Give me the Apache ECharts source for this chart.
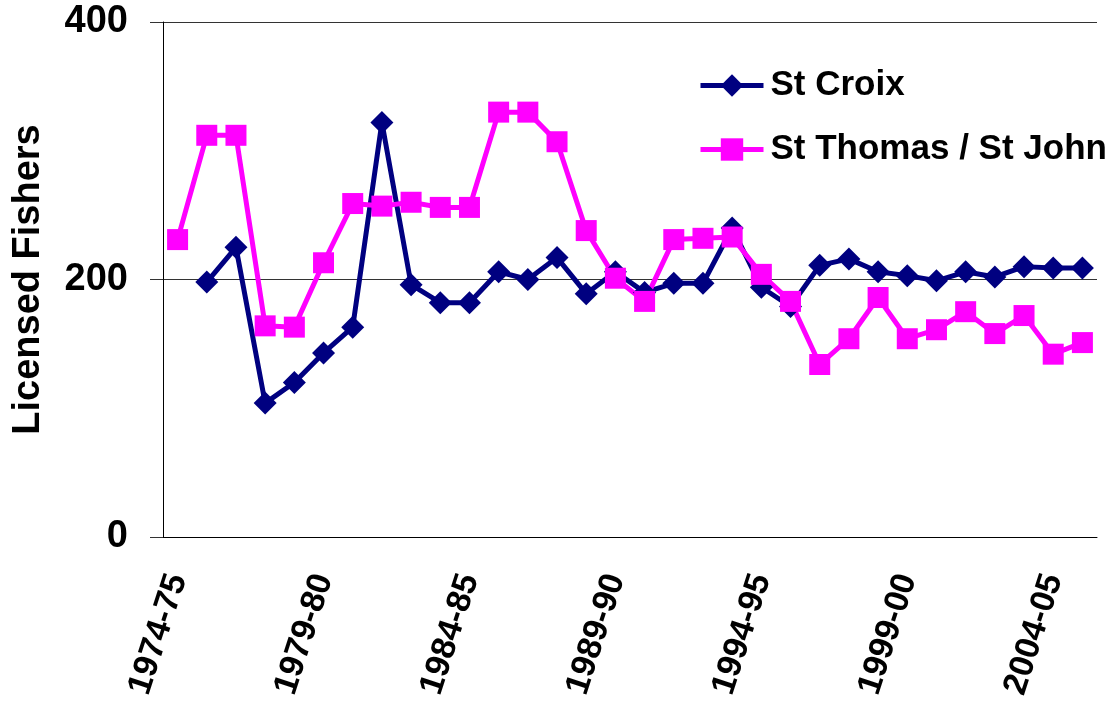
<!DOCTYPE html>
<html>
<head>
<meta charset="utf-8">
<title>Licensed Fishers</title>
<script src="https://cdn.jsdelivr.net/npm/echarts@6/dist/echarts.min.js"></script>
<style>
  html, body { margin: 0; padding: 0; background: #fff; }
  #main { width: 1119px; height: 707px; }
</style>
</head>
<body>
<div id="main"></div>
<script>
// 年度（财年）
let years = ['1974-75','1975-76','1976-77','1977-78','1978-79','1979-80','1980-81','1981-82',
    '1982-83','1983-84','1984-85','1985-86','1986-87','1987-88','1988-89','1989-90',
    '1990-91','1991-92','1992-93','1993-94','1994-95','1995-96','1996-97','1997-98',
    '1998-99','1999-00','2000-01','2001-02','2002-03','2003-04','2004-05','2005-06'];

// St Croix 持证渔民数
let stCroix = [null,198,225,104,120,143,163,322,196,182,182,206,200,217,189,206,
    190,197,197,240,194,179,211,216,206,203,199,206,202,210,209,209];

// St Thomas / St John 持证渔民数
let stThomas = [231,312,312,164,163,213,259,257,260,256,256,330,330,307,238,201,
    183,231,232,233,204,183,134,154,186,154,161,175,158,172,142,151];

let yTicks = [0, 200, 400];

let font = 'Arial, "Liberation Sans", sans-serif';
let myChart = echarts.init(document.getElementById('main'));

myChart.setOption({
    animation: false,
    grid: {
        left: 163,
        right: 22,
        top: 22,
        bottom: 170
    },
    legend: {
        orient: 'vertical',
        left: 698,
        top: 68,
        padding: 0,
        itemWidth: 63,
        itemHeight: 28,
        itemGap: 29,
        lineStyle: { width: 5 },
        textStyle: {
            fontFamily: font,
            fontSize: 35,
            fontWeight: 'bold',
            color: '#000',
            padding: [0, 0, 0, 2]
        },
        data: ['St Croix', 'St Thomas / St John']
    },
    xAxis: {
        type: 'category',
        boundaryGap: true,
        data: years,
        axisLine: { lineStyle: { color: '#000', width: 1 } },
        axisTick: { interval: 4, length: 11, lineStyle: { color: '#000' } },
        axisLabel: {
            interval: 4,
            rotate: 72,
            margin: 38,
            fontFamily: font,
            fontSize: 34,
            fontWeight: 'bold',
            color: '#000'
        },
        splitLine: { show: false }
    },
    yAxis: {
        type: 'value',
        min: yTicks[0],
        max: yTicks[yTicks.length - 1],
        interval: 200,
        name: 'Licensed Fishers',
        nameLocation: 'middle',
        nameGap: 115,
        nameRotate: 90,
        nameTextStyle: {
            fontFamily: font,
            fontSize: 38,
            fontWeight: 'bold',
            color: '#000'
        },
        axisLine: { show: true, lineStyle: { color: '#000', width: 1 } },
        axisTick: { show: true, length: 13, lineStyle: { color: '#333' } },
        axisLabel: {
            margin: 35,
            fontFamily: font,
            fontSize: 38,
            fontWeight: 'bold',
            color: '#000'
        },
        splitLine: { show: true, lineStyle: { color: '#333', width: 1 } }
    },
    series: [
        {
            name: 'St Croix',
            type: 'line',
            data: stCroix,
            symbol: 'diamond',
            symbolSize: 23,
            showAllSymbol: true,
            itemStyle: { color: '#000080' },
            lineStyle: { color: '#000080', width: 5 }
        },
        {
            name: 'St Thomas / St John',
            type: 'line',
            data: stThomas,
            symbol: 'rect',
            symbolSize: 21,
            showAllSymbol: true,
            itemStyle: { color: '#ff00ff' },
            lineStyle: { color: '#ff00ff', width: 5 }
        }
    ]
});

window.addEventListener('resize', () => { myChart.resize() });
</script>
</body>
</html>
